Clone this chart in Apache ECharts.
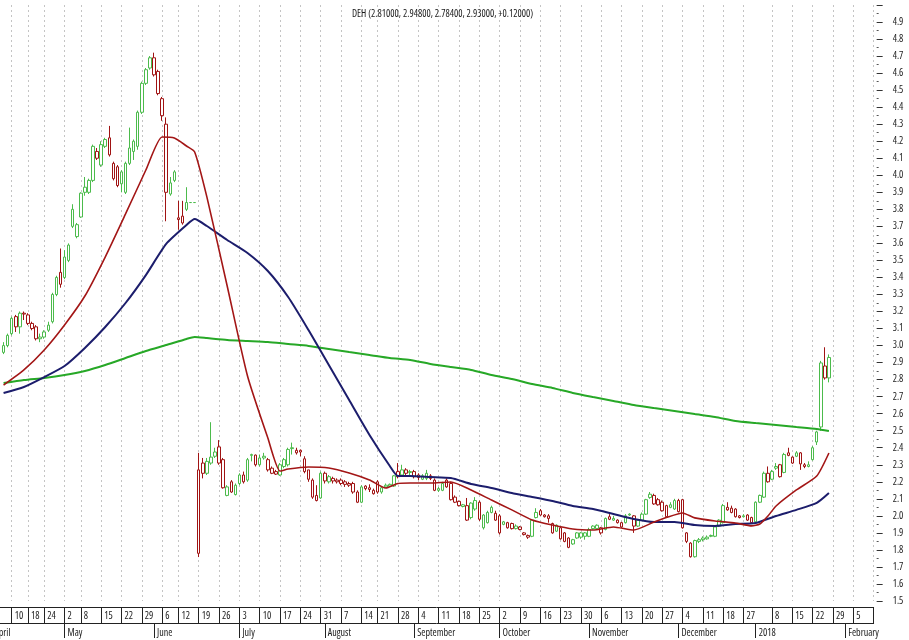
<!DOCTYPE html>
<html><head><meta charset="utf-8">
<script src="https://cdn.jsdelivr.net/npm/echarts/dist/echarts.min.js"></script>
<style>html,body{margin:0;padding:0;background:#fff}#c{width:909px;height:640px}</style>
</head><body><div id="c"></div>
<script>
const ticker = 'DEH';
// trading calendar (Athens exchange), first candle is 2017-04-06
const calStart = '2017-04-03', calEnd = '2018-02-12', firstCandle = '2017-04-06';
const holidays = ['2017-04-14','2017-04-17','2017-05-01','2017-06-05','2017-08-15','2017-12-25','2017-12-26','2018-01-01'];
const monthNames = ['January','February','March','April','May','June','July','August','September','October','November','December'];

// candles (k = 0 .. 203)
const opens = [2.96,3.00,3.07,3.17,3.11,3.19,3.18,3.13,3.11,3.04,3.05,3.09,3.14,3.30,3.43,3.40,3.50,3.80,3.64,3.755,
3.90,3.90,3.97,4.14,4.06,4.17,4.22,4.07,4.05,3.95,3.90,4.07,4.14,4.17,4.37,4.54,4.63,4.69,4.61,4.45,
4.30,3.89,3.97,3.75,3.76,3.80,3.84,3.84,1.78,2.31,2.25,2.31,2.375,2.405,2.33,2.12,2.20,2.125,2.19,2.24,
2.21,2.355,2.357,2.30,2.34,2.33,2.28,2.26,2.24,2.29,2.30,2.395,2.37,2.385,2.335,2.27,2.21,2.12,2.105,2.25,
2.20,2.22,2.21,2.21,2.20,2.19,2.19,2.14,2.08,2.175,2.165,2.13,2.20,2.14,2.18,2.185,2.175,2.26,2.24,2.27,
2.26,2.26,2.24,2.215,2.22,2.235,2.21,2.15,2.15,2.21,2.19,2.11,2.085,2.055,2.06,1.99,2.04,2.08,1.93,1.96,
2.02,2.015,2.00,1.95,1.96,1.955,1.925,1.935,1.90,1.885,1.88,1.99,2.03,2.005,2.00,1.955,1.91,1.93,1.90,1.87,
1.835,1.90,1.90,1.90,1.88,1.94,1.925,1.93,1.92,1.995,1.975,1.975,1.96,1.96,2.01,2.00,1.94,1.975,2.01,2.127,
2.12,2.095,2.08,2.06,2.05,2.04,2.09,2.095,1.90,1.84,1.76,1.85,1.86,1.865,1.885,1.88,1.94,1.96,2.035,2.045,
2.04,2.00,1.995,2.005,1.99,1.965,2.08,2.11,2.25,2.215,2.28,2.30,2.255,2.37,2.31,2.35,2.37,2.30,2.29,2.33,
2.434,2.522,2.88,2.81];
const highs = [3.02,3.07,3.17,3.18,3.20,3.20,3.19,3.14,3.12,3.07,3.09,3.14,3.31,3.41,3.57,3.56,3.60,3.83,3.72,3.90,
3.99,3.98,4.18,4.16,4.20,4.22,4.29,4.08,4.06,4.03,4.08,4.28,4.21,4.38,4.55,4.63,4.70,4.72,4.62,4.46,
4.34,3.99,4.03,3.85,3.85,3.93,3.84,3.84,2.37,2.34,2.34,2.55,2.40,2.445,2.34,2.18,2.21,2.19,2.25,2.26,
2.34,2.365,2.36,2.36,2.37,2.34,2.29,2.27,2.31,2.34,2.40,2.43,2.40,2.39,2.35,2.27,2.22,2.18,2.26,2.26,
2.24,2.23,2.22,2.22,2.21,2.20,2.20,2.15,2.18,2.18,2.185,2.16,2.21,2.17,2.19,2.19,2.24,2.31,2.30,2.28,
2.27,2.27,2.25,2.245,2.27,2.245,2.22,2.17,2.20,2.22,2.20,2.12,2.09,2.07,2.105,2.08,2.11,2.09,2.01,2.03,
2.06,2.03,2.01,1.97,1.965,1.96,1.95,1.94,1.905,1.89,1.98,2.045,2.04,2.01,2.01,1.96,1.95,1.935,1.905,1.875,
1.865,1.905,1.905,1.905,1.93,1.945,1.95,1.935,1.99,2.01,2.00,1.98,1.965,2.01,2.015,2.005,1.98,2.02,2.10,2.14,
2.13,2.105,2.09,2.065,2.08,2.10,2.10,2.10,1.905,1.845,1.86,1.87,1.88,1.885,1.89,1.94,1.98,2.07,2.08,2.06,
2.045,2.005,2.01,2.01,1.995,2.085,2.125,2.26,2.29,2.27,2.31,2.305,2.37,2.40,2.35,2.38,2.375,2.31,2.32,2.41,
2.50,2.91,2.99,2.948];
const lows = [2.95,2.99,3.06,3.08,3.07,3.15,3.12,3.09,3.03,3.02,3.04,3.08,3.13,3.29,3.34,3.39,3.49,3.69,3.63,3.75,
3.88,3.89,3.96,4.09,4.05,4.16,4.11,3.97,3.93,3.90,3.89,4.06,4.09,4.15,4.36,4.53,4.62,4.58,4.47,4.32,
3.73,3.88,3.96,3.68,3.71,3.79,3.84,3.84,1.758,2.22,2.24,2.30,2.34,2.30,2.16,2.115,2.135,2.12,2.18,2.19,
2.20,2.32,2.29,2.29,2.33,2.26,2.245,2.24,2.235,2.28,2.29,2.36,2.36,2.35,2.25,2.20,2.10,2.085,2.10,2.19,
2.19,2.19,2.19,2.18,2.17,2.17,2.13,2.075,2.075,2.15,2.14,2.125,2.13,2.13,2.165,2.17,2.17,2.22,2.23,2.24,
2.24,2.22,2.21,2.21,2.21,2.21,2.145,2.14,2.145,2.165,2.09,2.075,2.055,2.05,1.97,1.98,2.03,1.97,1.92,1.955,
2.015,1.97,1.89,1.945,1.925,1.92,1.92,1.915,1.885,1.865,1.875,1.985,2.00,1.99,1.96,1.895,1.905,1.86,1.845,1.81,
1.83,1.865,1.865,1.86,1.875,1.92,1.92,1.89,1.915,1.975,1.97,1.955,1.93,1.955,2.00,1.90,1.935,1.97,2.005,2.10,
2.065,2.06,2.025,1.99,2.045,2.035,2.02,1.925,1.84,1.755,1.755,1.84,1.85,1.86,1.875,1.875,1.935,1.955,2.03,2.015,
1.99,1.985,1.99,1.97,1.955,1.96,2.075,2.105,2.195,2.21,2.27,2.225,2.25,2.35,2.305,2.345,2.27,2.28,2.285,2.325,
2.416,2.50,2.80,2.784];
const closes = [3.00,3.06,3.16,3.11,3.19,3.185,3.13,3.10,3.04,3.05,3.08,3.12,3.30,3.40,3.36,3.52,3.59,3.70,3.71,3.895,
3.93,3.97,4.17,4.10,4.18,4.21,4.12,3.98,3.94,4.02,4.07,4.16,4.20,4.37,4.54,4.62,4.69,4.59,4.48,4.35,
3.90,3.955,4.02,3.74,3.72,3.84,3.84,3.84,2.27,2.25,2.32,2.345,2.35,2.31,2.165,2.17,2.14,2.18,2.24,2.20,
2.33,2.36,2.30,2.34,2.35,2.27,2.25,2.245,2.30,2.33,2.39,2.40,2.385,2.375,2.26,2.215,2.11,2.09,2.25,2.205,
2.23,2.205,2.20,2.19,2.185,2.18,2.14,2.08,2.17,2.16,2.155,2.15,2.14,2.165,2.17,2.175,2.235,2.23,2.27,2.25,
2.255,2.23,2.225,2.235,2.25,2.22,2.15,2.16,2.19,2.17,2.095,2.08,2.06,2.065,1.975,2.075,2.09,1.98,2.005,2.02,
2.05,1.975,1.90,1.965,1.93,1.925,1.94,1.92,1.89,1.875,1.975,2.02,2.005,1.995,1.985,1.90,1.945,1.865,1.85,1.815,
1.86,1.87,1.875,1.88,1.92,1.925,1.945,1.90,1.985,1.98,1.985,1.96,1.935,2.00,2.005,1.94,1.975,2.01,2.095,2.108,
2.07,2.065,2.03,1.995,2.065,2.09,2.025,1.93,1.85,1.76,1.855,1.86,1.87,1.875,1.88,1.935,1.975,2.06,2.05,2.02,
1.995,1.99,2.00,1.975,1.96,2.08,2.12,2.25,2.20,2.26,2.29,2.23,2.36,2.355,2.345,2.37,2.305,2.29,2.30,2.40,
2.493,2.898,2.81,2.93];

// moving averages: [candle index k, value]
const ma20 = [[0,2.768],[5,2.857],[10,2.974],[15,3.121],[20,3.291],[25,3.520],[30,3.773],[35,4.031],[39,4.225],[42,4.219],
[45,4.172],[47,4.137],[50,3.873],[55,3.350],[60,2.821],[65,2.457],[68,2.263],[70,2.275],[75,2.287],[80,2.281],[85,2.252],
[90,2.211],[94,2.164],[97,2.190],[100,2.193],[105,2.193],[110,2.199],[115,2.152],[120,2.093],[125,2.035],[130,1.976],
[135,1.946],[140,1.923],[145,1.917],[150,1.935],[155,1.917],[160,1.964],[163,1.990],[167,2.017],[170,1.988],[175,1.970],
[180,1.958],[184,1.941],[186,1.952],[188,1.999],[190,2.058],[195,2.152],[200,2.234],[203,2.369]];
const ma50 = [[0,2.722],[5,2.757],[10,2.815],[15,2.880],[20,2.986],[25,3.109],[30,3.250],[35,3.414],[40,3.597],[45,3.708],
[47,3.743],[50,3.702],[55,3.620],[60,3.544],[65,3.438],[70,3.285],[75,3.091],[80,2.886],[85,2.680],[90,2.475],[95,2.293],
[97,2.234],[100,2.234],[105,2.228],[110,2.222],[115,2.187],[120,2.164],[125,2.134],[130,2.111],[135,2.087],[140,2.058],
[145,2.040],[150,2.011],[155,1.982],[160,1.964],[165,1.964],[170,1.946],[175,1.941],[180,1.952],[185,1.958],[190,1.999],
[195,2.035],[200,2.076],[203,2.134]];
const ma200 = [[0,2.780],[5,2.798],[10,2.810],[15,2.827],[20,2.851],[25,2.886],[30,2.927],[35,2.968],[40,3.003],[45,3.039],
[47,3.050],[50,3.044],[55,3.033],[60,3.027],[65,3.021],[70,3.009],[75,2.998],[80,2.980],[85,2.962],[90,2.945],[95,2.927],
[100,2.915],[105,2.892],[110,2.874],[115,2.857],[120,2.827],[125,2.804],[130,2.774],[135,2.751],[140,2.722],[145,2.698],
[150,2.675],[155,2.651],[160,2.633],[165,2.616],[170,2.598],[175,2.581],[180,2.557],[185,2.545],[190,2.534],[195,2.522],
[200,2.510],[203,2.498]];

const yMin = 1.5, yMax = 5.0, yStep = 0.1;

// ---- build categories ----
const hol = new Set(holidays);
const cats = [];
for (let t = Date.parse(calStart + 'T00:00:00Z'); t <= Date.parse(calEnd + 'T00:00:00Z'); t += 86400000) {
  const d = new Date(t), wd = d.getUTCDay(), s = d.toISOString().slice(0, 10);
  if (wd > 0 && wd < 6 && !hol.has(s)) cats.push(s);
}
const lead = cats.indexOf(firstCandle);
const lastIdx = cats.length - 1;
function weekKey(s) { const d = new Date(s + 'T00:00:00Z'); const wd = (d.getUTCDay() + 6) % 7; return new Date(d.getTime() - wd * 86400000).toISOString().slice(0, 10); }
const monthStart = cats.map((s, i) => i === 0 || s.slice(0, 7) !== cats[i - 1].slice(0, 7));
const weekStart = cats.map((s, i) => (i === 0 || weekKey(s) !== weekKey(cats[i - 1])) && !(monthStart[i] && s.slice(5, 7) === '01'));

const UP = '#4cbb4c', DOWN = '#a01313';
const candleData = [];
for (let i = 0; i < lead; i++) candleData.push(['-', '-', '-', '-']);
opens.forEach((o, i) => {
  const c = closes[i], prev = i > 0 ? closes[i - 1] : o;
  const col = c >= prev ? UP : DOWN;
  candleData.push({ value: [o, c, lows[i], highs[i]], itemStyle: { color: '#ffffff', color0: col, borderColor: col, borderColor0: col, borderColorDoji: col } });
});
const toLine = arr => arr.map(p => [cats[lead + p[0]], p[1]]);

const n = opens.length;
const lastC = closes[n - 1], prevC = closes[n - 2];
const chg = lastC - prevC;
const titleText = ticker + ' (' + opens[n - 1].toFixed(5) + ', ' + highs[n - 1].toFixed(5) + ', ' + lows[n - 1].toFixed(5) + ', ' + lastC.toFixed(5) + ', ' + (chg >= 0 ? '+' : '') + chg.toFixed(5) + ')';

const FONT = "'Open Sans'";
const TXT = { fontFamily: FONT, fontStyle: 'condensed', fontSize: 10, color: '#1a1a1a' };
const chart = echarts.init(document.getElementById('c'), null, { renderer: 'canvas' });
chart.setOption({
  animation: false,
  backgroundColor: '#ffffff',
  textStyle: { fontFamily: FONT, fontStyle: 'condensed' },
  title: { text: titleText, left: 347, top: 4, textStyle: Object.assign({ fontWeight: 'normal' }, TXT) },
  grid: { left: -8.63, right: 35.35, top: 5, bottom: 39, containLabel: false, outerBoundsMode: 'none' },
  xAxis: [
    {
      type: 'category', data: cats, boundaryGap: false, position: 'bottom', offset: 6,
      axisLine: { show: true, onZero: false, lineStyle: { color: '#222', width: 1 } },
      axisTick: { show: true, interval: (i) => weekStart[i], length: 16, lineStyle: { color: '#222', width: 1 } },
      axisLabel: Object.assign({ show: true, interval: (i) => weekStart[i] && i !== lastIdx, formatter: (v) => String(+v.slice(8, 10)), align: 'left', padding: [0, 0, 0, 3], margin: 4, hideOverlap: false }, TXT),
      splitLine: { show: true, interval: (i) => weekStart[i], lineStyle: { color: '#c4c4c4', type: [2, 3], width: 1 } }
    },
    {
      type: 'category', data: cats, boundaryGap: false, position: 'bottom', offset: 22,
      axisLine: { show: true, onZero: false, lineStyle: { color: '#222', width: 1 } },
      axisTick: { show: true, interval: (i) => monthStart[i], length: 15, lineStyle: { color: '#222', width: 1 } },
      axisLabel: Object.assign({ show: true, interval: (i) => monthStart[i], formatter: (v) => v.slice(5, 7) === '01' ? v.slice(0, 4) : monthNames[+v.slice(5, 7) - 1], align: 'left', padding: [0, 0, 0, 3], margin: 5, hideOverlap: false }, TXT),
      splitLine: { show: false }
    }
  ],
  yAxis: {
    type: 'value', position: 'right', min: yMin, max: yMax, interval: yStep, offset: 3, scale: false,
    axisLine: { show: false },
    axisTick: { show: true, length: 6, lineStyle: { color: '#333', width: 1 } },
    minorTick: { show: true, splitNumber: 2, length: 2, lineStyle: { color: '#555' } },
    axisLabel: Object.assign({ formatter: (v) => v.toFixed(1), margin: 16, showMaxLabel: false }, TXT),
    splitLine: { show: false }, minorSplitLine: { show: false }
  },
  series: [
    { type: 'candlestick', name: ticker, data: candleData, barWidth: 3, xAxisIndex: 0, itemStyle: { borderWidth: 1 }, clip: true },
    { type: 'line', name: 'MA200', data: toLine(ma200), showSymbol: false, connectNulls: true, smooth: 0.2, lineStyle: { color: '#27a827', width: 2 }, z: 3 },
    { type: 'line', name: 'MA50', data: toLine(ma50), showSymbol: false, connectNulls: true, smooth: 0.2, lineStyle: { color: '#1c1d6c', width: 2 }, z: 4 },
    { type: 'line', name: 'MA20', data: toLine(ma20), showSymbol: false, connectNulls: true, smooth: 0.2, lineStyle: { color: '#a31616', width: 1.6 }, z: 5 }
  ]
});
</script>
</body></html>
